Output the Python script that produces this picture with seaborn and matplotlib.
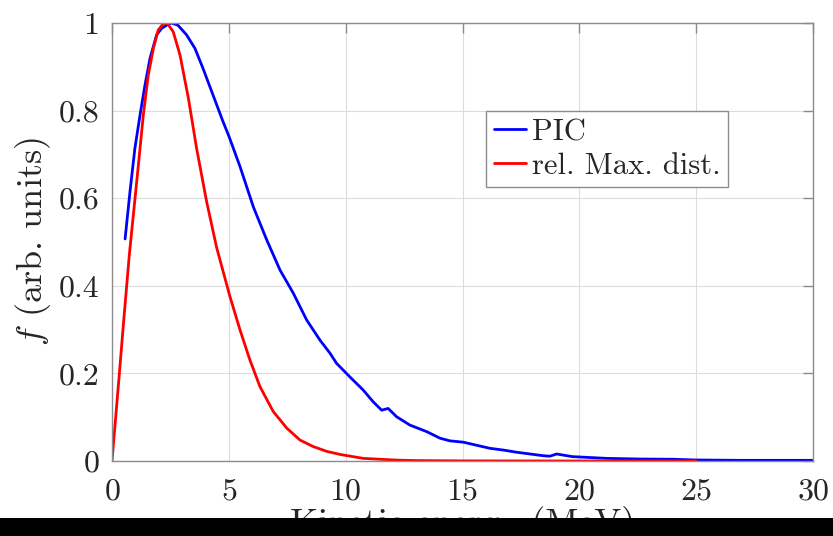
import matplotlib
matplotlib.use("Agg")
import matplotlib.pyplot as plt
import seaborn as sns
import pandas as pd
from matplotlib.patches import Rectangle

# ==========================================
# DATA
# ==========================================
pic_energy = [0.56, 0.77, 0.98, 1.2, 1.41, 1.63, 1.91, 2.13, 2.4, 2.55, 2.82, 3.19,
              3.55, 3.89, 4.32, 4.75, 5.0, 5.48, 6.05, 6.62, 7.19, 7.76, 8.33, 8.9,
              9.33, 9.61, 10.18, 10.75, 11.18, 11.54, 11.82, 12.18, 12.75, 13.47,
              14.04, 14.46, 15.03, 15.6, 16.17, 16.74, 17.32, 17.89, 18.46, 18.74,
              19.03, 19.7, 21.17, 22.6, 24.0, 25.0, 26.9, 27.8, 30.0]
pic_f = [0.507, 0.615, 0.714, 0.79, 0.858, 0.92, 0.973, 0.988, 0.997, 1.0, 0.995, 0.973,
         0.942, 0.897, 0.836, 0.775, 0.742, 0.672, 0.58, 0.505, 0.436, 0.383, 0.322, 0.276,
         0.246, 0.223, 0.192, 0.162, 0.135, 0.116, 0.12, 0.101, 0.082, 0.067,
         0.052, 0.046, 0.043, 0.036, 0.029, 0.025, 0.020, 0.016, 0.012, 0.011,
         0.016, 0.010, 0.006, 0.0045, 0.004, 0.0023, 0.0015, 0.0015, 0.0015]

maxw_energy = [0.0, 0.3, 0.5, 0.74, 0.91, 1.13, 1.34, 1.55, 1.77, 1.98, 2.2,
               2.37, 2.62, 2.91, 3.27, 3.62, 4.05, 4.48, 5.05, 5.48, 5.9, 6.33, 6.9,
               7.48, 8.04, 8.61, 9.19, 9.76, 10.75, 12.2, 13.0, 15.0, 20.0, 25.0]
maxw_f = [0.0, 0.19, 0.32, 0.47, 0.56, 0.676, 0.79, 0.88, 0.942, 0.984, 0.999,
          0.999, 0.98, 0.927, 0.828, 0.714, 0.592, 0.487, 0.375, 0.299, 0.231, 0.170, 0.113,
          0.075, 0.048, 0.033, 0.022, 0.015, 0.006, 0.002, 0.001, 0.0003, 0.0, 0.0]

x_ticks = [0, 5, 10, 15, 20, 25, 30]
y_ticks = [0, 0.2, 0.4, 0.6, 0.8, 1]
y_tick_labels = ["0", "0.2", "0.4", "0.6", "0.8", "1"]

pic_df = pd.DataFrame({"energy": pic_energy, "f": pic_f})
maxw_df = pd.DataFrame({"energy": maxw_energy, "f": maxw_f})


def main():
    sns.set_style("white")
    plt.rcParams["font.family"] = ["cmr10", "DejaVu Serif"]
    plt.rcParams["mathtext.fontset"] = "cm"
    plt.rcParams["axes.formatter.use_mathtext"] = True

    fig = plt.figure(figsize=(8.33, 5.36), dpi=100)
    ax = fig.add_axes([112 / 833, 75 / 536, 701 / 833, 438 / 536])

    sns.lineplot(data=pic_df, x="energy", y="f", color="#0000ff", linewidth=2,
                 label="PIC", ax=ax)
    sns.lineplot(data=maxw_df, x="energy", y="f", color="#ff0000", linewidth=2,
                 label="rel. Max. dist.", ax=ax)

    ax.set_xlim(0, 30)
    ax.set_ylim(0, 1)
    ax.set_xticks(x_ticks)
    ax.set_yticks(y_ticks)
    ax.set_yticklabels(y_tick_labels)

    # MATLAB-like box, inward ticks on all sides, faint grid
    ax.grid(True, color="#dcdcdc", linewidth=0.8)
    for side in ["left", "right", "top", "bottom"]:
        ax.spines[side].set_visible(True)
        ax.spines[side].set_color("#8c8c8c")
        ax.spines[side].set_linewidth(1.0)
    ax.tick_params(direction="in", length=7, width=1, color="#8c8c8c",
                   top=True, right=True, labelsize=23, labelcolor="#262626")
    ax.tick_params(axis="x", pad=12)
    ax.tick_params(axis="y", pad=9)

    ax.set_xlabel("Kinetic energy (MeV)", fontsize=26, color="#262626", labelpad=1)
    ax.set_ylabel("$f$ (arb. units)", fontsize=26, color="#262626", labelpad=4)

    leg = ax.legend(loc="upper left", bbox_to_anchor=(0.534, 0.799), borderaxespad=0,
                    fontsize=22, frameon=True, fancybox=False, framealpha=1,
                    handlelength=1.05, handletextpad=0.2, borderpad=0.25,
                    labelspacing=0.2)
    leg.get_frame().set_edgecolor("#8c8c8c")
    leg.get_frame().set_linewidth(1.0)
    for t in leg.get_texts():
        t.set_color("#262626")

    # black strip cropping the bottom of the image
    fig.add_artist(Rectangle((0, 0), 1, 18 / 536, transform=fig.transFigure,
                             facecolor="black", edgecolor="none", zorder=10))

    fig.savefig("out.png", dpi=100)
    plt.close(fig)


if __name__ == "__main__":
    main()
